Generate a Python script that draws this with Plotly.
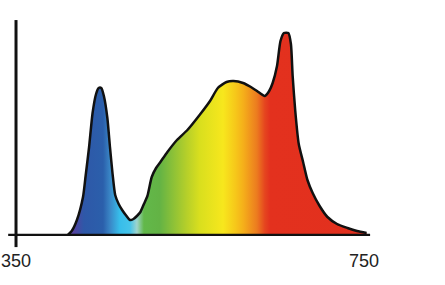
import plotly.graph_objects as go

# wavelength (nm) and relative intensity
wavelength = [408, 414, 420, 427, 430, 434, 438, 442, 445, 448, 451, 455, 458, 461, 464,
              468, 472, 477, 481, 485, 489, 493, 497, 501, 506, 511, 516, 524, 535, 547,
              561, 573, 582, 592, 600, 611, 620, 627, 636, 641, 645, 650, 654, 658, 663,
              666, 668, 671, 675, 680, 685, 691, 699, 708, 719, 731, 742, 753]
intensity = [0, 5, 16, 39, 60, 89, 123, 142, 148, 148, 140, 118, 89, 62, 41,
             32, 26, 20, 16, 17, 20, 24, 32, 40, 59, 68, 74, 84, 96, 106,
             121, 135, 148, 154, 155, 153, 149, 145, 140, 145, 153, 170, 195, 203, 203,
             192, 160, 125, 92, 74, 56, 43, 30, 19, 12, 8, 5, 3]

tick_values = [350, 750]
tick_labels = ["350", "750"]

# spectrum colours by wavelength
color_nm = [408, 418, 428, 450, 458, 469, 481, 489, 497, 515, 546, 561, 588, 602, 611, 627, 636, 642, 753]
color_hex = ["#6a3c98", "#4f45a2", "#2e58a8", "#2b5fab", "#3a86c6", "#37bdea", "#45c4ea", "#9fd4cc",
             "#62b84a", "#63b345", "#b5cf2a", "#d9df1e", "#f7e71d", "#f6c81a", "#f5b01a", "#ec7b1f",
             "#e5451f", "#e3311e", "#e2301e"]

lo, hi = color_nm[0], color_nm[-1]
colorscale = [[(w - lo) / (hi - lo), c] for w, c in zip(color_nm, color_hex)]

fig = go.Figure()
fig.add_trace(go.Scatter(
    x=wavelength, y=intensity, mode="lines",
    line=dict(color="#111111", width=2.5, shape="spline", smoothing=0.6),
    fill="tozeroy",
    fillgradient=dict(type="horizontal", colorscale=colorscale, start=lo, stop=hi),
    hoverinfo="skip", showlegend=False,
))

# hand-drawn style axes
fig.add_shape(type="line", xref="x", yref="y", x0=341, x1=757, y0=0, y1=0,
              line=dict(color="#111111", width=4.5))
fig.add_shape(type="line", xref="x", yref="paper", x0=350, x1=350, y0=-0.047, y1=0.915,
              line=dict(color="#111111", width=3))

fig.update_layout(
    width=445, height=285,
    margin=dict(l=0, r=0, t=0, b=49),
    paper_bgcolor="white", plot_bgcolor="white",
    xaxis=dict(range=[331.6, 843.1], tickvals=tick_values, ticktext=tick_labels,
               showgrid=False, zeroline=False, showline=False, ticks="",
               ticklabelstandoff=12,
               tickfont=dict(family="Liberation Sans, Arial, sans-serif", size=18, color="#222222")),
    yaxis=dict(range=[0, 236], visible=False, showgrid=False, zeroline=False),
)

fig.write_html("out.html")
